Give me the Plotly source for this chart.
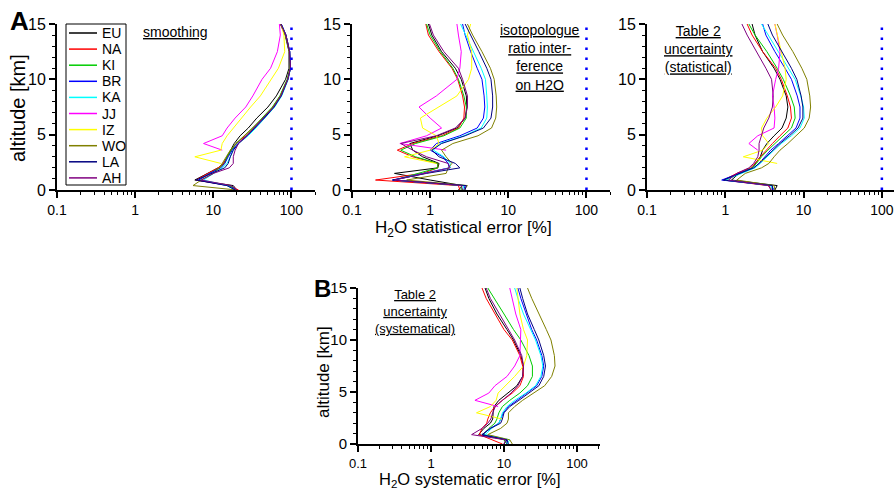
import plotly.graph_objects as go

# ---------------- data ----------------
sites = ["EU", "NA", "KI", "BR", "KA", "JJ", "IZ", "WO", "LA", "AH"]
colors = ["#000000", "#ff0000", "#00cc00", "#0000ff", "#00ffff",
          "#ff00ff", "#ffff00", "#808000", "#000080", "#800080"]

altitude_km = [0, 0.4, 0.9, 1.5, 2.0, 2.4, 3.0, 3.6, 4.2, 4.9, 5.6, 6.5,
               7.5, 8.5, 10.0, 11.0, 12.5, 14.0, 15.0]
N = None

smoothing = {
    "EU": [20, 18, 5.8, 8.5, 11.5, 13.5, 15, 16.5, 18.5, 22, 28, 36, 50, 64, 84, 93, 93, 83, 72],
    "NA": [21, 16, 6.0, 8.5, 11.5, 13.5, 15, 17, 19.5, 26, 33, 43, 58, 72, 89, 96, 94, 84, 73],
    "KI": [20, 16, 6.5, 9, 12, 14, 15, 17, 19.5, 25, 32, 42, 57, 71, 88, 96, 94, 84, 73],
    "BR": [20, 15, 6.5, 9, 12.5, 14, 15.5, 17.5, 20.5, 27, 34, 45, 60, 74, 90, 97, 95, 85, 74],
    "KA": [19, 15, 7.5, 10, 13, 15, 16.5, 18, 21, 28, 35, 46, 61, 75, 91, 97, 95, 85, 74],
    "JJ": [N, N, N, N, N, N, N, 13, 7.5, 13, 15, 19, 26, 32, 42, 54, 66, 72, 70],
    "IZ": [N, N, N, N, N, 12.5, 5.8, 12.5, 13, 15, 18, 23, 30, 40, 55, 68, 82, 80, 74],
    "WO": [20, 5.5, 7, 10, 12, 13, 14.5, 16.5, 19.5, 25, 32, 43, 58, 72, 89, 96, 94, 84, 73],
    "LA": [19, 15, 6, 9.5, 14, 15.5, 16.5, 18, 21, 27, 34, 45, 60, 74, 90, 97, 95, 85, 74],
    "AH": [20, 17, 7, 10, 16, 18, 18, 19, 21, 27, 33, 44, 59, 73, 90, 97, 95, 85, 73],
}

isotopologue = {
    "EU": [2.3, 2.6, 1.0, 0.35, 1.25, 1.3, 0.8, 0.6, 0.55, 1.25, 2.2, 2.8, 2.95, 2.9, 2.5, 2.1, 1.4, 1.05, 0.95],
    "NA": [2.4, 2.3, 0.2, 0.8, 1.25, 1.25, 0.6, 0.38, 0.6, 1.4, 2.3, 2.7, 2.75, 2.6, 2.25, 1.9, 1.3, 0.95, 0.88],
    "KI": [2.5, 2.5, 0.35, 0.7, 1.25, 1.25, 0.65, 0.42, 0.65, 1.5, 2.4, 2.9, 2.9, 2.7, 2.3, 1.95, 1.35, 1.0, 0.9],
    "BR": [2.7, 2.8, 0.33, 0.8, 1.75, 1.7, 1.45, 1.0, 1.2, 2.4, 4.0, 4.8, 5.0, 4.9, 4.6, 4.0, 3.3, 2.8, 2.6],
    "KA": [2.6, 2.7, 0.35, 0.9, 1.8, 1.8, 1.5, 1.1, 1.33, 2.7, 4.5, 5.3, 5.4, 5.3, 5.1, 4.5, 3.6, 2.9, 2.45],
    "JJ": [N, N, N, N, N, N, N, 1.6, 0.41, 0.9, 1.4, 1.0, 0.72, 1.2, 2.2, 2.4, 2.5, 2.3, 2.2],
    "IZ": [N, N, N, N, N, 1.2, 0.47, 1.0, 1.3, 1.2, 0.8, 0.75, 1.3, 2.2, 3.1, 3.4, 3.4, 3.0, 3.3],
    "WO": [2.7, 3.0, 0.5, 1.6, 1.7, 1.9, 1.6, 1.4, 1.95, 4.1, 6.1, 6.9, 7.1, 7.0, 6.6, 5.9, 4.6, 3.5, 3.0],
    "LA": [2.8, 2.9, 0.33, 0.9, 2.4, 2.1, 1.3, 1.05, 1.4, 2.8, 4.8, 6.0, 6.3, 6.3, 6.0, 5.3, 4.2, 3.3, 2.8],
    "AH": [2.6, 2.5, 0.35, 0.9, 1.8, 1.7, 0.9, 0.6, 0.42, 1.2, 2.1, 2.8, 3.0, 3.0, 2.6, 2.3, 1.5, 1.1, 0.98],
}

table2_statistical = {
    "EU": [4.3, 4.6, 1.2, 1.5, 2.2, 2.4, 2.8, 3.0, 3.4, 4.2, 5.3, 6.0, 6.3, 6.0, 5.0, 4.2, 3.0, 2.4, 2.2],
    "NA": [4.0, 3.5, 0.95, 1.4, 2.1, 2.4, 2.8, 3.3, 4.0, 5.0, 6.3, 7.0, 6.8, 6.2, 5.2, 4.4, 3.0, 2.2, 1.9],
    "KI": [4.0, 4.0, 1.0, 1.5, 2.2, 2.5, 2.9, 3.5, 4.3, 5.5, 7.0, 7.8, 7.6, 6.8, 5.5, 4.6, 3.4, 2.4, 2.0],
    "BR": [4.2, 3.9, 0.9, 1.5, 2.3, 2.7, 3.2, 3.8, 4.8, 6.3, 8.0, 9.0, 9.0, 8.3, 7.0, 5.8, 4.3, 3.3, 3.0],
    "KA": [4.0, 3.8, 1.0, 1.6, 2.4, 2.8, 3.4, 4.2, 5.2, 7.0, 9.0, 10.2, 10.0, 9.2, 7.8, 6.4, 4.8, 3.5, 2.9],
    "JJ": [N, N, N, N, N, N, N, 2.6, 2.0, 2.6, 4.2, 4.3, 4.2, 4.0, 4.4, 4.8, 5.0, 4.6, 4.3],
    "IZ": [N, N, N, N, N, 4.6, 1.7, 3.0, 3.6, 3.0, 2.9, 3.4, 4.4, 5.4, 6.0, 5.8, 5.2, 4.6, 4.3],
    "WO": [4.3, 4.2, 1.4, 1.8, 2.9, 3.6, 4.2, 5.0, 6.3, 8.0, 10.2, 11.8, 12.3, 12.0, 11.0, 9.5, 7.3, 5.4, 4.6],
    "LA": [4.0, 4.0, 0.95, 1.5, 2.3, 2.7, 3.3, 4.0, 5.0, 6.6, 8.5, 9.8, 9.8, 9.3, 8.2, 7.0, 5.3, 4.0, 3.5],
    "AH": [3.8, 3.6, 1.1, 1.4, 2.0, 2.3, 2.6, 2.7, 2.7, 2.9, 3.1, 3.6, 4.0, 4.1, 3.9, 3.3, 2.5, 1.9, 1.63],
}

table2_systematical = {
    "EU": [10, 11, 4.5, 5.3, 6.5, 7.0, 7.1, 7.3, 8.5, 11.5, 15, 18, 18.5, 17, 13.5, 11, 8, 6.2, 5.5],
    "NA": [9.5, 7, 4.6, 5.0, 5.8, 6.0, 6.5, 7.5, 9.5, 13, 16.5, 18.5, 18, 16.5, 13, 10, 7.5, 5.7, 5.0],
    "KI": [11, 10, 5.2, 6.2, 7.5, 8.0, 8.5, 9.5, 12, 16.5, 21, 24.5, 24.5, 22, 17, 13.5, 10, 7.3, 6.0],
    "BR": [11, 11, 5.0, 6.5, 8.5, 9.0, 9.8, 11.5, 15, 21, 28, 33, 35, 33, 28, 24, 20, 17, 15.5],
    "KA": [11, 12, 5.5, 6.8, 8.5, 9.0, 9.5, 11, 14, 20, 27, 32, 34, 32, 27, 23, 18.5, 15.5, 14],
    "JJ": [N, N, N, N, N, N, N, 8.3, 4.0, 6.2, 7.5, 11, 14, 16.5, 17, 17, 14.5, 13, 12],
    "IZ": [N, N, N, N, N, 9.4, 4.2, 6.5, 7.8, 8.3, 10.5, 14, 18.5, 20.5, 21, 18.5, 16.5, 15.5, 15],
    "WO": [13, 12, 6.0, 9.0, 11, 11.5, 11.5, 14, 18, 26, 36, 45, 50, 49, 44, 38, 30, 24, 21],
    "LA": [11.5, 11, 5.0, 6.5, 9.0, 9.5, 10, 12, 16, 22, 30, 35, 37, 35, 30, 26, 21, 18, 16.5],
    "AH": [10, 10.5, 3.6, 5.0, 6.0, 6.6, 7.0, 7.6, 9.5, 12.5, 15.5, 18, 18.5, 17.5, 14, 11.5, 8.5, 6.5, 5.7],
}

x_tick_vals = [0.1, 1, 10, 100]
x_tick_text = ["0.1", "1", "10", "100"]
y_tick_vals = [0, 5, 10, 15]
reference_line_x = [100, 100]
reference_line_y = [0, 15]

# ---------------- figure ----------------
W, H = 894, 490
FONT = "Liberation Sans, Arial, sans-serif"
fig = go.Figure()

panels = [
    (smoothing, "x", "y", True),
    (isotopologue, "x2", "y2", True),
    (table2_statistical, "x3", "y3", True),
    (table2_systematical, "x4", "y4", False),
]

for data, xa, ya, ref in panels:
    for s, c in zip(sites, colors):
        fig.add_trace(go.Scatter(
            x=data[s], y=altitude_km, mode="lines", name=s,
            line=dict(color=c, width=1), xaxis=xa, yaxis=ya,
            showlegend=False, connectgaps=False))
    if ref:
        fig.add_trace(go.Scatter(
            x=reference_line_x, y=reference_line_y, mode="lines",
            line=dict(color="#0000ff", width=2.5, dash="2.5px,7.5px"),
            xaxis=xa, yaxis=ya, showlegend=False, hoverinfo="skip"))

minor_x = [m * 10 ** e for e in (-1, 0, 1, 2) for m in range(2, 10)]


def xax(px0, px1, rmax, anchor, fs):
    return dict(type="log", range=[-1, rmax], domain=[px0 / W, px1 / W], anchor=anchor,
                showline=True, linewidth=2, linecolor="black", automargin=False,
                ticks="outside", ticklen=6, tickwidth=1.5, tickcolor="black",
                tickvals=x_tick_vals, ticktext=x_tick_text,
                tickfont=dict(size=fs, color="black", family=FONT),
                minor=dict(tickvals=minor_x, ticks="outside", ticklen=3,
                           tickwidth=1, tickcolor="black"),
                showgrid=False, zeroline=False)


def yax(top, bottom, anchor, fs):
    return dict(range=[0, 15], domain=[1 - bottom / H, 1 - top / H], anchor=anchor,
                showline=True, linewidth=2, linecolor="black", automargin=False,
                ticks="outside", ticklen=6, tickwidth=1.5, tickcolor="black",
                tickvals=y_tick_vals,
                tickfont=dict(size=fs, color="black", family=FONT),
                minor=dict(dtick=1, ticks="outside", ticklen=3, tickwidth=1,
                           tickcolor="black"),
                showgrid=False, zeroline=False)


fig.update_layout(
    width=W, height=H, margin=dict(l=0, r=0, t=0, b=0, autoexpand=False),
    paper_bgcolor="white", plot_bgcolor="white",
    font=dict(family=FONT, color="black"),
    showlegend=False,
    xaxis=xax(57, 315, 2.301, "y", 14),
    yaxis=yax(24, 190, "x", 16),
    xaxis2=xax(352, 610, 2.301, "y2", 14),
    yaxis2=yax(24, 190, "x2", 16),
    xaxis3=xax(647, 894, 2.155, "y3", 14),
    yaxis3=yax(24, 190, "x3", 16),
    xaxis4=xax(358, 600, 2.315, "y4", 13),
    yaxis4=yax(288, 444, "x4", 15),
)

# ---- legend (drawn from the sites / colors lists) ----
leg_x0, leg_x1, leg_top, leg_bot = 66, 126, 24, 185
fig.add_shape(type="rect", xref="paper", yref="paper",
              x0=leg_x0 / W, x1=leg_x1 / W, y0=1 - leg_bot / H, y1=1 - leg_top / H,
              line=dict(color="black", width=1), fillcolor="white", layer="above")
for i, (s, c) in enumerate(zip(sites, colors)):
    yy = 1 - (33 + 16.1 * i) / H
    fig.add_shape(type="line", xref="paper", yref="paper",
                  x0=69 / W, x1=97 / W, y0=yy, y1=yy,
                  line=dict(color=c, width=1.5), layer="above")
    fig.add_annotation(xref="paper", yref="paper", x=100 / W, y=yy, text=s,
                       showarrow=False, xanchor="left", yanchor="middle",
                       font=dict(size=14, color="black", family=FONT))

ann_font = dict(size=14, color="black", family=FONT)
annotations = [
    dict(text="<b>A</b>", x=19 / W, y=1 - 21 / H, font=dict(size=26, color="black", family=FONT)),
    dict(text="<b>B</b>", x=322 / W, y=1 - 288 / H, font=dict(size=24, color="black", family=FONT)),
    dict(text="<u>smoothing</u>", x=175 / W, y=1 - 32 / H, font=ann_font),
    dict(text="<u>isotopologue</u><br><u>ratio inter-</u><br><u>ference</u><br><u>on H2O</u>",
         x=540 / W, y=1 - 58 / H, font=ann_font),
    dict(text="<u>Table 2</u><br><u>uncertainty</u><br><u>(statistical)</u>",
         x=698 / W, y=1 - 49 / H, font=ann_font),
    dict(text="<u>Table 2</u><br><u>uncertainty</u><br><u>(systematical)</u>",
         x=415 / W, y=1 - 311 / H, font=dict(size=13, color="black", family=FONT)),
    # axis titles
    dict(text="altitude [km]", x=18 / W, y=1 - 108 / H, textangle=-90,
         font=dict(size=20, color="black", family=FONT)),
    dict(text="altitude [km]", x=323 / W, y=1 - 372 / H, textangle=-90,
         font=dict(size=17, color="black", family=FONT)),
    dict(text="H<sub>2</sub>O statistical error [%]", x=463 / W, y=1 - 229 / H,
         font=dict(size=17, color="black", family=FONT)),
    dict(text="H<sub>2</sub>O systematic error [%]", x=470 / W, y=1 - 480 / H,
         font=dict(size=16.5, color="black", family=FONT)),
]
for a in annotations:
    fig.add_annotation(xref="paper", yref="paper", showarrow=False,
                       xanchor="center", yanchor="middle", **a)

fig.write_html("out.html")
